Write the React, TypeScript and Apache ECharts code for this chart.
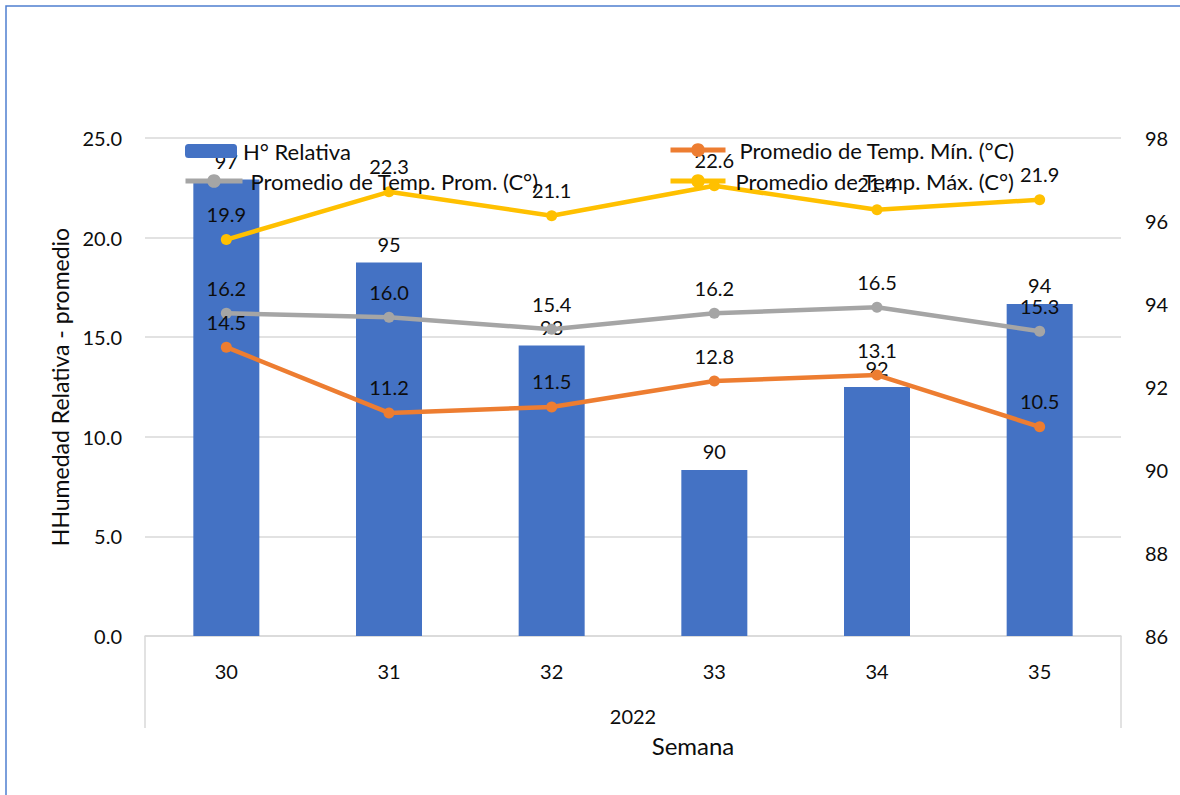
import React, { useEffect, useRef } from "react";
import * as echarts from "echarts";

const weeks = ["30", "31", "32", "33", "34", "35"];
const yearGroup = ["2022"];
const humedadRelativa = [97, 95, 93, 90, 92, 94];
const tempMin = [14.5, 11.2, 11.5, 12.8, 13.1, 10.5];
const tempProm = [16.2, 16.0, 15.4, 16.2, 16.5, 15.3];
const tempMax = [19.9, 22.3, 21.1, 22.6, 21.4, 21.9];

const seriesNames = {
  hum: "H° Relativa",
  min: "Promedio de Temp. Mín. (°C)",
  prom: "Promedio de Temp. Prom. (C°)",
  max: "Promedio de Temp. Máx. (C°)",
};

const FONT = "Lato, 'Open Sans', sans-serif";
const TEXT = "#0d0d0d";
const GRID = "#d9d9d9";

export default function App() {
  const ref = useRef<HTMLDivElement>(null);

  useEffect(() => {
    document.body.style.margin = "0";
    if (!ref.current) return;
    const chart = echarts.init(ref.current, undefined, { renderer: "svg" });

    const lineLabel = {
      show: true,
      position: "top",
      distance: 10,
      fontSize: 20,
      color: TEXT,
      fontFamily: FONT,
      formatter: (p: any) => Number(p.value).toFixed(1),
    };

    const legendText = (padLeft: number) => ({
      fontSize: 22,
      color: TEXT,
      fontFamily: FONT,
      padding: [0, 0, 0, padLeft],
    });

    chart.setOption({
      animation: false,
      textStyle: { fontFamily: FONT },
      graphic: [
        {
          type: "rect",
          shape: { x: 6, y: 6, width: 1300, height: 1000 },
          style: { fill: "none", stroke: "#4f7fcf", lineWidth: 1.5 },
          silent: true,
          z: -10,
        },
      ],
      legend: [
        {
          data: [seriesNames.hum],
          left: 180,
          top: 135,
          itemWidth: 52,
          itemHeight: 14,
          selectedMode: false,
          textStyle: legendText(1),
        },
        {
          data: [seriesNames.prom],
          left: 178,
          top: 165,
          itemWidth: 57,
          itemHeight: 17,
          selectedMode: false,
          lineStyle: { width: 5 },
          textStyle: legendText(3),
        },
        {
          data: [seriesNames.min],
          left: 663,
          top: 134,
          itemWidth: 55,
          itemHeight: 17,
          selectedMode: false,
          lineStyle: { width: 5 },
          textStyle: legendText(9),
        },
        {
          data: [seriesNames.max],
          left: 663,
          top: 165,
          itemWidth: 55,
          itemHeight: 17,
          selectedMode: false,
          lineStyle: { width: 5 },
          textStyle: legendText(5),
        },
      ],
      grid: { left: 145, right: 59, top: 138, bottom: 159 },
      xAxis: [
        {
          type: "category",
          data: weeks,
          position: "bottom",
          axisLine: { show: true, lineStyle: { color: GRID, width: 1.5 } },
          axisTick: { show: false },
          axisLabel: { fontSize: 20, color: TEXT, fontFamily: FONT, margin: 25 },
        },
        {
          type: "category",
          data: yearGroup,
          position: "bottom",
          axisLine: { show: false },
          axisTick: { show: true, length: 92, lineStyle: { color: GRID, width: 1.5 } },
          axisLabel: { fontSize: 20, color: TEXT, fontFamily: FONT, margin: 70 },
          name: "Semana",
          nameLocation: "middle",
          nameGap: 97,
          nameTextStyle: {
            fontSize: 24,
            color: TEXT,
            fontFamily: FONT,
            padding: [0, 0, 0, 120],
          },
        },
      ],
      yAxis: [
        {
          type: "value",
          min: 0,
          max: 25,
          interval: 5,
          position: "left",
          axisLine: { show: false },
          axisTick: { show: false },
          splitLine: { show: true, lineStyle: { color: GRID, width: 1.5 } },
          axisLabel: {
            fontSize: 20,
            color: TEXT,
            fontFamily: FONT,
            margin: 23,
            formatter: (v: number) => v.toFixed(1),
          },
          name: "HHumedad Relativa - promedio",
          nameLocation: "middle",
          nameGap: 65,
          nameTextStyle: { fontSize: 23, color: TEXT, fontFamily: FONT },
        },
        {
          type: "value",
          min: 86,
          max: 98,
          interval: 2,
          position: "right",
          axisLine: { show: false },
          axisTick: { show: false },
          splitLine: { show: false },
          axisLabel: { fontSize: 20, color: TEXT, fontFamily: FONT, margin: 24 },
        },
      ],
      series: [
        {
          name: seriesNames.hum,
          type: "bar",
          xAxisIndex: 0,
          yAxisIndex: 1,
          data: humedadRelativa,
          barWidth: 66,
          itemStyle: { color: "#4472c4" },
          label: {
            show: true,
            position: "top",
            distance: 9,
            fontSize: 20,
            color: TEXT,
            fontFamily: FONT,
          },
          z: 2,
        },
        {
          name: seriesNames.min,
          type: "line",
          xAxisIndex: 0,
          yAxisIndex: 0,
          data: tempMin,
          symbol: "circle",
          symbolSize: 11,
          lineStyle: { color: "#ed7d31", width: 4.5 },
          itemStyle: { color: "#ed7d31" },
          label: lineLabel,
          z: 3,
        },
        {
          name: seriesNames.prom,
          type: "line",
          xAxisIndex: 0,
          yAxisIndex: 0,
          data: tempProm,
          symbol: "circle",
          symbolSize: 11,
          lineStyle: { color: "#a5a5a5", width: 4.5 },
          itemStyle: { color: "#a5a5a5" },
          label: lineLabel,
          z: 3,
        },
        {
          name: seriesNames.max,
          type: "line",
          xAxisIndex: 0,
          yAxisIndex: 0,
          data: tempMax,
          symbol: "circle",
          symbolSize: 11,
          lineStyle: { color: "#ffc000", width: 4.5 },
          itemStyle: { color: "#ffc000" },
          label: lineLabel,
          z: 3,
        },
      ],
    });

    return () => chart.dispose();
  }, []);

  return (
    <div
      ref={ref}
      style={{ position: "absolute", left: 0, top: 0, width: 1180, height: 795, background: "#fff" }}
    />
  );
}
